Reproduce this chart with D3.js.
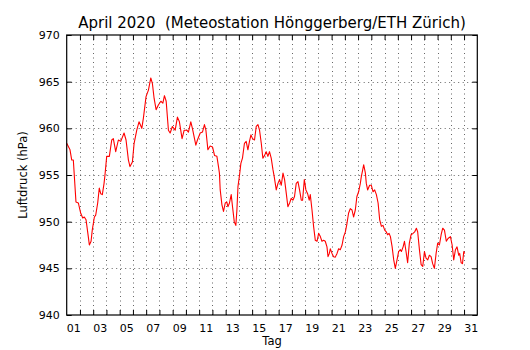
<!DOCTYPE html>
<html><head><meta charset="utf-8">
<script src="https://cdn.jsdelivr.net/npm/d3@7"></script>
<style>
html,body{margin:0;padding:0;background:#fff;}
text{font-family:"DejaVu Sans",sans-serif;white-space:pre;}
</style></head>
<body><svg id="c" width="530" height="350"></svg>
<script>
const title = "April 2020  (Meteostation Hönggerberg/ETH Zürich)";
const xLabel = "Tag";
const yLabel = "Luftdruck (hPa)";

const days = [0.50,0.75,0.88,1.00,1.20,1.38,1.56,1.71,1.83,1.96,2.13,2.21,2.34,2.43,2.59,2.69,2.84,2.96,3.07,3.19,3.32,3.39,3.52,3.72,3.90,4.02,4.20,4.40,4.58,4.83,4.98,5.16,5.28,5.46,5.59,5.79,5.96,6.17,6.29,6.49,6.67,6.85,6.97,7.10,7.25,7.42,7.61,7.76,7.88,8.01,8.18,8.31,8.48,8.69,8.86,9.01,9.21,9.37,9.57,9.69,9.87,9.99,10.25,10.37,10.58,10.75,10.90,11.01,11.16,11.33,11.51,11.66,11.84,11.96,12.03,12.09,12.22,12.34,12.47,12.59,12.67,12.79,12.92,13.02,13.15,13.27,13.35,13.43,13.55,13.65,13.77,13.92,14.05,14.18,14.30,14.41,14.53,14.68,14.81,14.94,15.06,15.19,15.31,15.44,15.56,15.69,15.81,15.94,16.07,16.17,16.32,16.45,16.57,16.70,16.83,16.95,17.08,17.20,17.33,17.45,17.58,17.70,17.83,17.96,18.08,18.21,18.31,18.44,18.56,18.69,18.81,18.89,19.02,19.14,19.27,19.40,19.52,19.65,19.77,19.90,20.02,20.15,20.23,20.33,20.40,20.53,20.65,20.78,20.91,21.03,21.16,21.29,21.41,21.54,21.66,21.78,21.91,22.04,22.16,22.29,22.41,22.54,22.67,22.74,22.84,22.92,23.05,23.12,23.22,23.37,23.50,23.63,23.75,23.88,24.01,24.13,24.26,24.38,24.51,24.63,24.73,24.84,24.94,25.07,25.19,25.31,25.44,25.56,25.69,25.77,25.90,26.00,26.12,26.24,26.37,26.50,26.65,26.77,26.90,27.00,27.13,27.26,27.38,27.51,27.63,27.76,27.88,28.01,28.13,28.26,28.39,28.51,28.64,28.77,28.89,29.02,29.16,29.29,29.47,29.60,29.72,29.85,29.97,30.10,30.17,30.28,30.38,30.48,30.55];
const pressure = [958.4,957.7,956.6,956.6,952.1,952.0,950.9,950.4,950.5,950.2,948.4,947.5,947.9,949.1,950.5,950.7,952.0,953.6,953.0,952.9,954.1,955.0,957.0,957.0,958.75,958.9,957.5,958.75,958.6,959.5,958.75,956.6,955.9,956.4,958.4,959.8,960.7,960.0,961.1,963.4,964.1,965.4,964.8,963.2,962.0,962.5,962.9,962.7,963.5,962.9,959.8,959.5,960.2,959.8,961.2,960.7,958.9,959.8,959.8,959.6,960.7,960.0,958.2,958.75,959.5,959.6,960.4,959.8,957.7,958.1,958.0,957.1,957.0,955.9,955.2,953.4,951.8,951.1,952.0,952.1,951.6,952.0,952.9,951.6,950.0,949.6,951.25,953.75,955.0,956.25,956.8,958.4,958.6,957.7,958.6,959.3,958.9,958.75,960.2,960.4,959.8,958.4,956.8,957.1,957.5,957.0,957.5,956.8,955.6,954.8,953.4,954.1,954.5,953.9,955.2,954.5,953.0,951.6,952.0,952.5,952.3,952.7,954.1,954.3,953.4,952.3,952.3,954.5,953.4,953.0,952.3,952.9,951.25,949.5,948.0,947.9,948.75,948.4,947.9,948.0,947.9,947.3,946.25,946.6,947.1,946.6,946.25,946.2,946.6,947.1,947.0,947.5,948.4,948.9,949.8,950.9,951.4,951.25,950.5,951.25,952.7,953.2,954.1,954.8,955.5,956.1,955.2,954.1,953.4,953.9,953.9,953.2,953.4,952.9,952.0,950.2,949.5,949.6,949.1,948.9,948.6,948.75,948.4,947.3,945.9,945.0,945.9,946.8,947.0,946.8,947.3,947.9,946.8,945.6,947.7,948.6,948.75,948.9,949.3,948.9,947.0,945.4,945.2,946.8,946.1,945.9,946.4,946.25,945.5,945.0,946.6,947.7,947.5,948.6,949.3,949.1,947.9,948.2,948.4,947.5,945.9,947.0,947.3,946.4,946.6,945.6,945.5,946.8,946.6];

const xTickDays = d3.range(1.5, 31, 1);          // 30 tick / grid positions
const xLabelDays = d3.range(1, 32, 2);           // 01, 03, ..., 31
const yTicks = [940, 945, 950, 955, 960, 965, 970];

const m = {left: 66.7, right: 477.3, top: 35, bottom: 315};
const svg = d3.select("#c");
const x = d3.scaleLinear().domain([0.5, 31.5]).range([m.left, m.right]);
const y = d3.scaleLinear().domain([940, 970]).range([m.bottom, m.top]);

// grid
const grid = svg.append("g").attr("stroke", "#222").attr("stroke-width", 0.7)
  .attr("stroke-dasharray", "1,3.5").attr("fill", "none");
xTickDays.forEach(d => grid.append("line")
  .attr("x1", Math.round(x(d)) + 0.5).attr("x2", Math.round(x(d)) + 0.5)
  .attr("y1", m.top).attr("y2", m.bottom));
yTicks.slice(1, -1).forEach(v => grid.append("line")
  .attr("x1", m.left).attr("x2", m.right)
  .attr("y1", Math.round(y(v)) + 0.5).attr("y2", Math.round(y(v)) + 0.5));

// data line
const line = d3.line().x((d, i) => x(days[i])).y((d, i) => y(pressure[i]));
svg.append("path").datum(pressure).attr("d", line)
  .attr("fill", "none").attr("stroke", "#ff0000").attr("stroke-width", 1.1)
  .attr("stroke-linejoin", "round");

// axes with inward ticks
const tl = 5;
const fmt2 = d => String(d).padStart(2, "0");
const axB = svg.append("g").attr("transform", `translate(0,${m.bottom})`)
  .call(d3.axisBottom(x).tickValues(xTickDays).tickSize(-tl).tickFormat(""));
const axT = svg.append("g").attr("transform", `translate(0,${m.top})`)
  .call(d3.axisTop(x).tickValues(xTickDays).tickSize(-tl).tickFormat(""));
const axL = svg.append("g").attr("transform", `translate(${m.left},0)`)
  .call(d3.axisLeft(y).tickValues(yTicks).tickSize(-tl).tickPadding(7).tickFormat(d3.format("d")));
const axR = svg.append("g").attr("transform", `translate(${m.right},0)`)
  .call(d3.axisRight(y).tickValues(yTicks).tickSize(-tl).tickFormat(""));
const axLab = svg.append("g").attr("transform", `translate(0,${m.bottom})`)
  .call(d3.axisBottom(x).tickValues(xLabelDays).tickSize(0).tickPadding(9).tickFormat(fmt2));
axLab.select(".domain").remove();
[axB, axT, axL, axR].forEach(g => g.select(".domain").remove());
svg.selectAll(".tick line").attr("stroke", "#000").attr("stroke-width", 1);
svg.selectAll(".tick text").attr("font-size", 11).attr("fill", "#000")
  .attr("font-family", "DejaVu Sans, sans-serif");

// frame
svg.append("rect").attr("x", m.left).attr("y", m.top)
  .attr("width", m.right - m.left).attr("height", m.bottom - m.top)
  .attr("fill", "none").attr("stroke", "#000").attr("stroke-width", 1.2);

// texts
svg.append("text").attr("x", (m.left + m.right) / 2).attr("y", 28)
  .attr("text-anchor", "middle").attr("font-size", 15).attr("xml:space", "preserve").text(title);
svg.append("text").attr("x", (m.left + m.right) / 2).attr("y", 345)
  .attr("text-anchor", "middle").attr("font-size", 11.5).text(xLabel);
svg.append("text").attr("transform", `translate(27,${(m.top + m.bottom) / 2}) rotate(-90)`)
  .attr("text-anchor", "middle").attr("font-size", 11.5).text(yLabel);
</script></body></html>
